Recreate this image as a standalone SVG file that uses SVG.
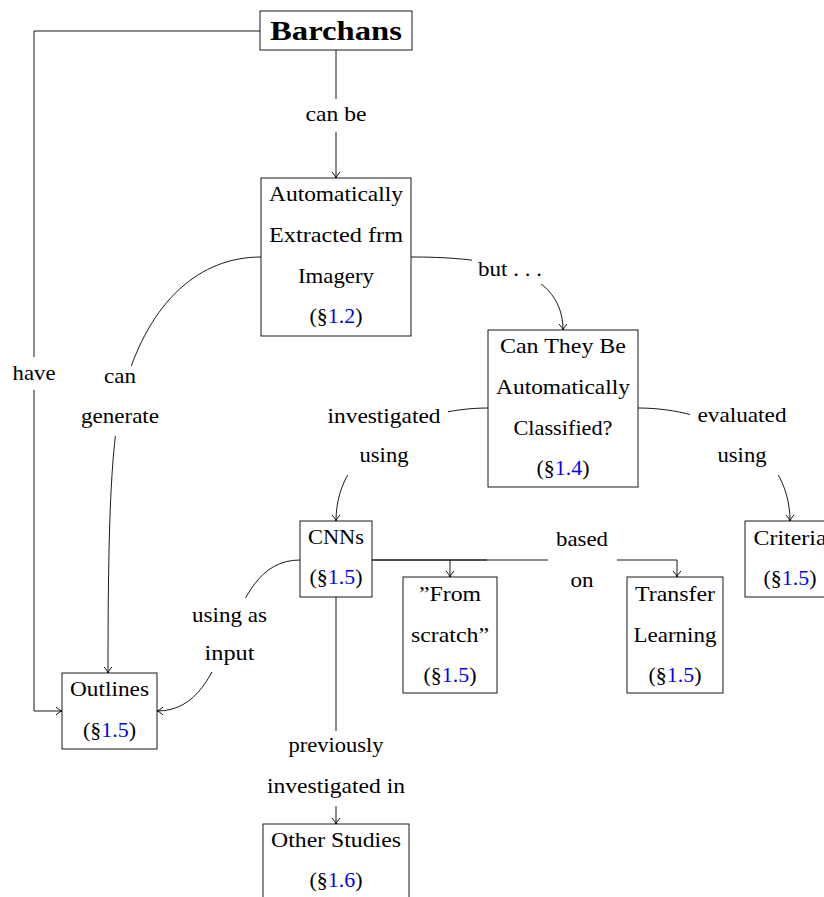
<svg xmlns="http://www.w3.org/2000/svg" width="824" height="897" viewBox="0 0 824 897">
<style>
  text { font-family: "Liberation Serif", "Times New Roman", serif; font-size: 21px; fill: #000; text-anchor: middle; }
  .bold { font-weight: bold; font-size: 28px; }
  .ref { fill: #0000ff; }
  .box { fill: #fff; stroke: #000; stroke-width: 0.9; }
  .edge { fill: none; stroke: #000; stroke-width: 0.9; }
  .arr { marker-end: url(#arrow); }
  .lbl { fill: #fff; stroke: none; }
</style>
<defs>
  <marker id="arrow" viewBox="-7 -5 8 10" refX="0" refY="0" markerWidth="8" markerHeight="10" markerUnits="userSpaceOnUse" orient="auto">
    <path d="M-6,-4 C-3.6,-1.7 -1.2,-0.35 0,0 C-1.2,0.35 -3.6,1.7 -6,4" fill="none" stroke="#000" stroke-width="1"/>
  </marker>
</defs>
<rect width="824" height="897" fill="#fff"/>

<g id="connectors">
  <path class="edge arr" d="M336,50 V178"/>
  <path class="edge arr" d="M260,31 H34 V711 H62"/>
  <path class="edge arr" d="M261,257 C200,257 150,300 125,385 C112,430 108,500 108,673"/>
  <path class="edge arr" d="M411,257 C477,257 563,264 563,330"/>
  <path class="edge arr" d="M488,408 C414,408 336,447 336,521"/>
  <path class="edge arr" d="M638,408 C712,408 790,447 790,521"/>
  <path class="edge arr" d="M300,560 C219,560 238,711 157,711"/>
  <path class="edge arr" d="M372,560 H450 V577"/>
  <path class="edge arr" d="M372,560 H677 V577"/>
  <path class="edge" d="M450,560 H487"/>
  <path class="edge arr" d="M336,597 V824"/>

  <g id="lbl-canbe"><rect class="lbl" x="302" y="99" width="68" height="33"/><text x="336" y="121" textLength="61" lengthAdjust="spacingAndGlyphs">can be</text></g>
  <g id="lbl-have"><rect class="lbl" x="9" y="357" width="50" height="33"/><text x="34" y="380" textLength="43" lengthAdjust="spacingAndGlyphs">have</text></g>
  <g id="lbl-cangenerate"><rect class="lbl" x="78" y="366" width="84" height="70"/><text x="120" y="383" textLength="32" lengthAdjust="spacingAndGlyphs">can</text><text x="120" y="423" textLength="78" lengthAdjust="spacingAndGlyphs">generate</text></g>
  <g id="lbl-but"><rect class="lbl" x="472" y="257" width="73" height="27"/><text x="510" y="276" textLength="64" lengthAdjust="spacingAndGlyphs">but . . .</text></g>
  <g id="lbl-investigated"><rect class="lbl" x="323" y="402" width="125" height="73"/><text x="384" y="423" textLength="113" lengthAdjust="spacingAndGlyphs">investigated</text><text x="384" y="462" textLength="49" lengthAdjust="spacingAndGlyphs">using</text></g>
  <g id="lbl-evaluated"><rect class="lbl" x="690" y="402" width="103" height="73"/><text x="742" y="422" textLength="89" lengthAdjust="spacingAndGlyphs">evaluated</text><text x="742" y="462" textLength="49" lengthAdjust="spacingAndGlyphs">using</text></g>
  <g id="lbl-basedon"><rect class="lbl" x="548" y="524" width="69" height="74"/><text x="582" y="546" textLength="52" lengthAdjust="spacingAndGlyphs">based</text><text x="582" y="587" textLength="23" lengthAdjust="spacingAndGlyphs">on</text></g>
  <g id="lbl-usingas"><rect class="lbl" x="187" y="598" width="85" height="74"/><text x="229.5" y="622" textLength="75" lengthAdjust="spacingAndGlyphs">using as</text><text x="229.5" y="660" textLength="50" lengthAdjust="spacingAndGlyphs">input</text></g>
  <g id="lbl-previously"><rect class="lbl" x="262" y="731" width="148" height="75"/><text x="336" y="752" textLength="95" lengthAdjust="spacingAndGlyphs">previously</text><text x="336" y="793" textLength="138" lengthAdjust="spacingAndGlyphs">investigated in</text></g>
</g>

<g id="barchans">
  <rect class="box" x="260" y="11" width="152" height="39"/>
  <text class="bold" x="336" y="40" textLength="132" lengthAdjust="spacingAndGlyphs">Barchans</text>
</g>

<g id="extracted">
  <rect class="box" x="261" y="178" width="150" height="158"/>
  <text x="336" y="201" textLength="134" lengthAdjust="spacingAndGlyphs">Automatically</text>
  <text x="336" y="242" textLength="134" lengthAdjust="spacingAndGlyphs">Extracted frm</text>
  <text x="336" y="283" textLength="76" lengthAdjust="spacingAndGlyphs">Imagery</text>
  <text x="336" y="323" textLength="53" lengthAdjust="spacingAndGlyphs">(§<tspan class="ref">1.2</tspan>)</text>
</g>

<g id="classified">
  <rect class="box" x="488" y="330" width="150" height="157"/>
  <text x="563" y="353" textLength="126" lengthAdjust="spacingAndGlyphs">Can They Be</text>
  <text x="563" y="394" textLength="134" lengthAdjust="spacingAndGlyphs">Automatically</text>
  <text x="563" y="435" textLength="99" lengthAdjust="spacingAndGlyphs">Classified?</text>
  <text x="563" y="475" textLength="53" lengthAdjust="spacingAndGlyphs">(§<tspan class="ref">1.4</tspan>)</text>
</g>

<g id="cnns">
  <rect class="box" x="300" y="521" width="72" height="76"/>
  <text x="336" y="544" textLength="56" lengthAdjust="spacingAndGlyphs">CNNs</text>
  <text x="336" y="584" textLength="53" lengthAdjust="spacingAndGlyphs">(§<tspan class="ref">1.5</tspan>)</text>
</g>

<g id="criteria">
  <rect class="box" x="745" y="521" width="92" height="76"/>
  <text x="790" y="545" textLength="73" lengthAdjust="spacingAndGlyphs">Criteria</text>
  <text x="790" y="585" textLength="53" lengthAdjust="spacingAndGlyphs">(§<tspan class="ref">1.5</tspan>)</text>
</g>

<g id="fromscratch">
  <rect class="box" x="403" y="577" width="94" height="116"/>
  <text x="450" y="601" textLength="62" lengthAdjust="spacingAndGlyphs">”From</text>
  <text x="450" y="642" textLength="78" lengthAdjust="spacingAndGlyphs">scratch”</text>
  <text x="450" y="682" textLength="53" lengthAdjust="spacingAndGlyphs">(§<tspan class="ref">1.5</tspan>)</text>
</g>

<g id="transfer">
  <rect class="box" x="627" y="577" width="96" height="116"/>
  <text x="675" y="601" textLength="80" lengthAdjust="spacingAndGlyphs">Transfer</text>
  <text x="675" y="642" textLength="83" lengthAdjust="spacingAndGlyphs">Learning</text>
  <text x="675" y="682" textLength="53" lengthAdjust="spacingAndGlyphs">(§<tspan class="ref">1.5</tspan>)</text>
</g>

<g id="outlines">
  <rect class="box" x="62" y="673" width="95" height="76"/>
  <text x="109.5" y="696" textLength="79" lengthAdjust="spacingAndGlyphs">Outlines</text>
  <text x="109.5" y="737" textLength="53" lengthAdjust="spacingAndGlyphs">(§<tspan class="ref">1.5</tspan>)</text>
</g>

<g id="otherstudies">
  <rect class="box" x="263" y="824" width="146" height="90"/>
  <text x="336" y="847" textLength="130" lengthAdjust="spacingAndGlyphs">Other Studies</text>
  <text x="336" y="887" textLength="53" lengthAdjust="spacingAndGlyphs">(§<tspan class="ref">1.6</tspan>)</text>
</g>
</svg>
